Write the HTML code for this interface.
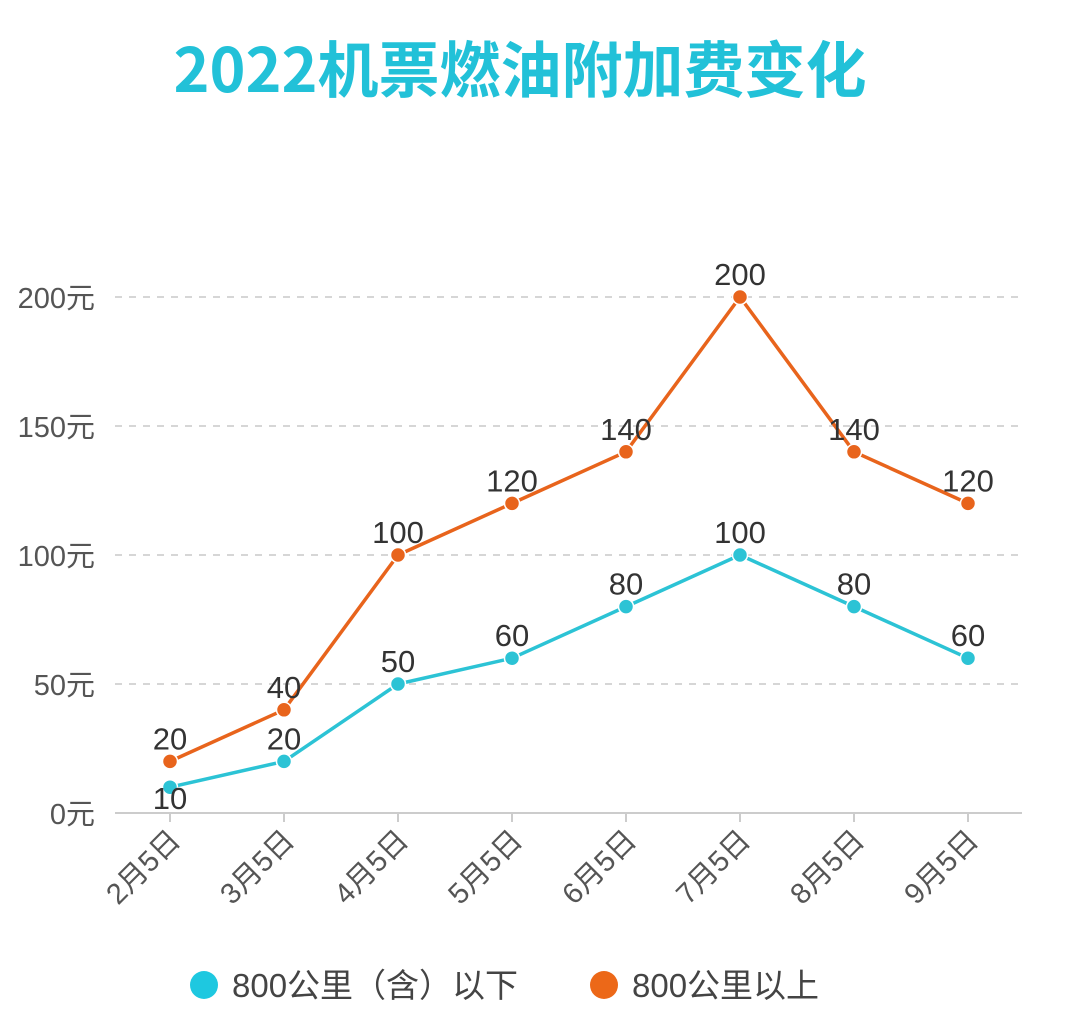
<!DOCTYPE html>
<html><head><meta charset="utf-8"><style>
html,body{margin:0;padding:0;background:#fff;}
body{width:1080px;height:1023px;overflow:hidden;font-family:"Liberation Sans","Noto Sans CJK SC",sans-serif;}
</style></head><body>
<svg id="chart" width="1080" height="1023" xmlns="http://www.w3.org/2000/svg" font-family="Liberation Sans, Noto Sans CJK SC, sans-serif">
<text x="520" y="92" text-anchor="middle" font-size="61" font-weight="bold" fill="#22c1d8" font-family="Noto Sans CJK SC, sans-serif">2022机票燃油附加费变化</text>
<g id="grid"></g><g id="axes"></g><g id="series"></g>
<g>
<g><circle cx="204" cy="985" r="14" fill="#1ec8e0"/><text x="232" y="997" font-size="33" fill="#444">800公里（含）以下</text></g>
<g><circle cx="604" cy="985" r="14" fill="#ec6818"/><text x="632" y="997" font-size="33" fill="#444">800公里以上</text></g>
</g>
</svg>
<script>
const categories=["2月5日","3月5日","4月5日","5月5日","6月5日","7月5日","8月5日","9月5日"];
const under800=[10,20,50,60,80,100,80,60];
const over800=[20,40,100,120,140,200,140,120];
const yTicks=[0,50,100,150,200];
const yTickLabels=["0元","50元","100元","150元","200元"];
const NS="http://www.w3.org/2000/svg";
function x(i){return 170+i*114;}
function y(v){return 813-v*2.58;}
function mk(t,a,p){const e=document.createElementNS(NS,t);for(const k in a)e.setAttribute(k,a[k]);p.appendChild(e);return e;}
const grid=document.getElementById('grid'),axes=document.getElementById('axes'),series=document.getElementById('series');
yTicks.forEach((v,i)=>{
 if(v>0){const l=mk('line',{x1:115,x2:1022,y1:y(v),y2:y(v),stroke:'#d6d6d6','stroke-width':2,'stroke-dasharray':'7 7'},grid);
 
 }
 const t=mk('text',{x:95,y:y(v)+11,'text-anchor':'end','font-size':29,fill:'#555'},axes);
 t.textContent=yTickLabels[i];
 
 
});
const ax=mk('line',{x1:115,x2:1022,y1:813,y2:813,stroke:'#ccc','stroke-width':2},axes);


categories.forEach((c,i)=>{
 const tk=mk('line',{x1:x(i),x2:x(i),y1:813,y2:822,stroke:'#ccc','stroke-width':2},axes);
 
 
 const t=mk('text',{x:x(i)+12,y:842,'text-anchor':'end','font-size':29,fill:'#555',transform:`rotate(-45 ${x(i)+12} 842)`},axes);
 t.textContent=c;
 
 
});
function draw(vals,color,name,labelDy){
 const pl=mk('polyline',{points:vals.map((v,i)=>x(i)+','+y(v)).join(' '),fill:'none',stroke:color,'stroke-width':3.5,'stroke-linejoin':'round'},series);
 
 
 vals.forEach((v,i)=>{
  const c=mk('circle',{cx:x(i),cy:y(v),r:7.5,fill:color,stroke:'#fff','stroke-width':1.5},series);
  
  
  const t=mk('text',{x:x(i),y:y(v)+labelDy(i),'text-anchor':'middle','font-size':31,fill:'#333'},series);
  t.textContent=v;
  
  
 });
}
draw(over800,'#e8641c','over-800',()=>-12);
draw(under800,'#2cc3d5','under-800',i=>i===0?22:-12);
</script>
</body></html>
